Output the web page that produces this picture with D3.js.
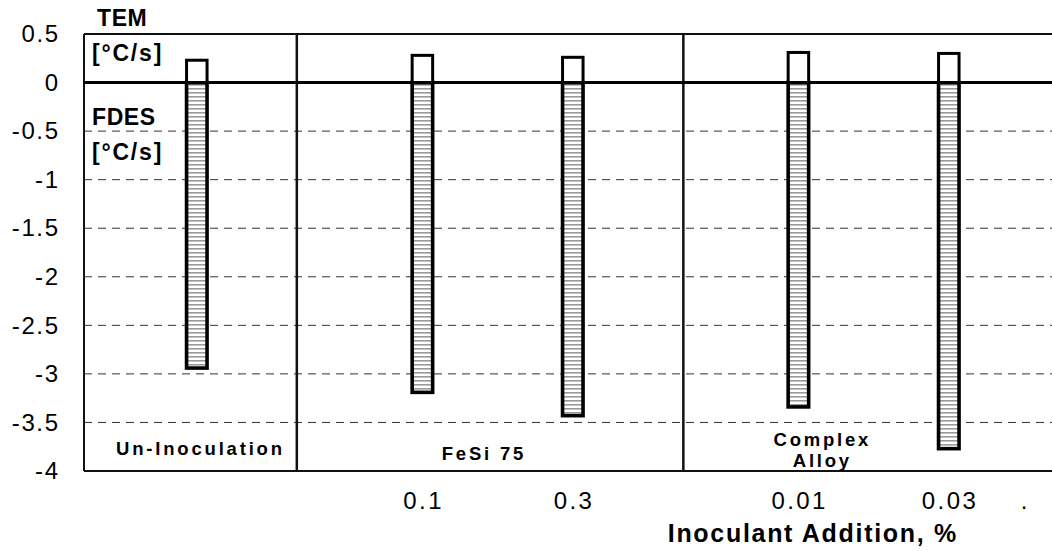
<!DOCTYPE html>
<html>
<head>
<meta charset="utf-8">
<script src="https://cdn.jsdelivr.net/npm/d3@7"></script>
<style>
  html, body { margin: 0; padding: 0; background: #fff; }
  svg { display: block; font-family: "Liberation Sans", Arial, sans-serif; }
</style>
</head>
<body>
<svg id="chart" width="1052" height="551"></svg>
<script>
// Category slots along the x axis (blank slots keep the groups apart)
const slotLabels = ["", "", "", "", "0.1", "", "0.3", "", "", "0.01", "", "0.03", "."];
// Slot holding each measured bar
const barSlots = [1, 4, 6, 9, 11];
// TEM, °C/s (positive part of each bar)
const temValues = [0.23, 0.28, 0.26, 0.31, 0.30];
// FDES, °C/s (negative part of each bar)
const fdesValues = [-2.94, -3.19, -3.43, -3.34, -3.77];
// Y axis ticks
const yTicks = [0.5, 0, -0.5, -1, -1.5, -2, -2.5, -3, -3.5, -4];
// Inoculant groups: label lines and where each group ends (in slot units)
const groupNames = [["Un-Inoculation"], ["FeSi 75"], ["Complex", "Alloy"]];
const groupEnds = [2.83, 7.97];

const svg = d3.select("#chart");
const FONT = "Liberation Sans, Arial, sans-serif";
const plot = { left: 84, top: 34, bottom: 471, slot: 75.2 };
const right = plot.left + slotLabels.length * plot.slot;

const x = d3.scaleBand()
  .domain(d3.range(slotLabels.length))
  .range([plot.left, right])
  .padding(0);
const xs = d3.scaleLinear().domain([0, slotLabels.length]).range([plot.left, right]);
const y = d3.scaleLinear().domain([-4, 0.5]).range([plot.bottom, plot.top]);

// Horizontal hatching for the FDES bars
const defs = svg.append("defs");
const pat = defs.append("pattern")
  .attr("id", "hatch")
  .attr("patternUnits", "userSpaceOnUse")
  .attr("width", 8).attr("height", 4);
pat.append("rect").attr("width", 8).attr("height", 4).attr("fill", "#fff");
pat.append("rect").attr("y", 0).attr("width", 8).attr("height", 1.6).attr("fill", "#9a9a9a");

// Dashed gridlines
svg.append("g")
  .selectAll("line")
  .data(yTicks.filter(t => t !== 0 && t !== 0.5 && t !== -4))
  .join("line")
  .attr("x1", plot.left).attr("x2", 1052)
  .attr("y1", d => y(d)).attr("y2", d => y(d))
  .attr("stroke", "#333").attr("stroke-width", 1)
  .attr("stroke-dasharray", "8,6");

// Frame lines
svg.append("line").attr("x1", plot.left).attr("x2", 1052)
  .attr("y1", y(0.5)).attr("y2", y(0.5)).attr("stroke", "#111").attr("stroke-width", 2);
svg.append("line").attr("x1", plot.left).attr("x2", 1052)
  .attr("y1", y(-4)).attr("y2", y(-4)).attr("stroke", "#111").attr("stroke-width", 2);
svg.append("line").attr("x1", plot.left).attr("x2", plot.left)
  .attr("y1", y(0.5)).attr("y2", y(-4)).attr("stroke", "#111").attr("stroke-width", 2);

// Group separators
svg.append("g").selectAll("line").data(groupEnds).join("line")
  .attr("x1", d => xs(d)).attr("x2", d => xs(d))
  .attr("y1", y(0.5)).attr("y2", y(-4))
  .attr("stroke", "#111").attr("stroke-width", 2.5);

// Bars
const bw = 20.5;
const bars = svg.append("g");
bars.selectAll("rect.fdes").data(barSlots).join("rect")
  .attr("class", "fdes")
  .attr("x", (d) => x(d) + x.bandwidth() / 2 - bw / 2)
  .attr("y", y(0))
  .attr("width", bw)
  .attr("height", (d, i) => y(fdesValues[i]) - y(0))
  .attr("fill", "url(#hatch)")
  .attr("stroke", "#000").attr("stroke-width", 3.6);
bars.selectAll("rect.tem").data(barSlots).join("rect")
  .attr("class", "tem")
  .attr("x", (d) => x(d) + x.bandwidth() / 2 - bw / 2)
  .attr("y", (d, i) => y(temValues[i]))
  .attr("width", bw)
  .attr("height", (d, i) => y(0) - y(temValues[i]))
  .attr("fill", "#fff")
  .attr("stroke", "#000").attr("stroke-width", 3);

// Zero line
svg.append("line").attr("x1", plot.left - 1).attr("x2", 1052)
  .attr("y1", y(0)).attr("y2", y(0)).attr("stroke", "#000").attr("stroke-width", 3);

// Y axis labels
const ySpacing = 1.6;
const yAxis = d3.axisLeft(y).tickValues(yTicks).tickSize(0).tickPadding(0)
  .tickFormat(d => String(d));
svg.append("g")
  .attr("transform", `translate(${58 + ySpacing},0)`)
  .call(yAxis)
  .call(g => g.select(".domain").remove())
  .call(g => g.selectAll("text")
    .attr("font-size", 24).attr("fill", "#000")
    .attr("font-family", FONT)
    .style("letter-spacing", ySpacing + "px"));

// X axis labels
const xSpacing = 2.4;
const xAxis = d3.axisBottom(x).tickSize(0).tickPadding(0).tickFormat(i => slotLabels[i]);
svg.append("g")
  .attr("transform", "translate(0,492)")
  .call(xAxis)
  .call(g => g.select(".domain").remove())
  .call(g => g.selectAll("text")
    .attr("font-size", 24).attr("fill", "#000")
    .attr("font-family", FONT)
    .attr("dx", xSpacing / 2)
    .style("letter-spacing", xSpacing + "px"));

// Axis title
svg.append("text").attr("x", 812 + 0.9).attr("y", 542)
  .attr("text-anchor", "middle").attr("font-size", 25).attr("font-weight", "bold")
  .style("letter-spacing", "1.7px")
  .text("Inoculant Addition, %");

// Series labels along the y axis
const sideLabels = [["TEM", 26], ["[°C/s]", 61], ["FDES", 125], ["[°C/s]", 160]];
svg.append("g").selectAll("text").data(sideLabels).join("text")
  .attr("x", (d, i) => i === 0 ? 97 : 92)
  .attr("y", d => d[1])
  .attr("font-size", 23).attr("font-weight", "bold")
  .style("letter-spacing", (d, i) => (i % 2 === 1 ? "1.8px" : "0.6px"))
  .text(d => d[0]);

// Group names
const groupPos = [1.53, 5.3, 9.8];
const groupBase = [[455], [460], [446, 467]];
const gl = svg.append("g");
groupNames.forEach((lines, gi) => {
  lines.forEach((t, li) => {
    gl.append("text")
      .attr("x", xs(groupPos[gi]) + 1.4)
      .attr("y", groupBase[gi][li])
      .attr("text-anchor", "middle")
      .attr("font-size", 18.5).attr("font-weight", "bold")
      .style("letter-spacing", "2.8px")
      .text(t);
  });
});
</script>
</body>
</html>
